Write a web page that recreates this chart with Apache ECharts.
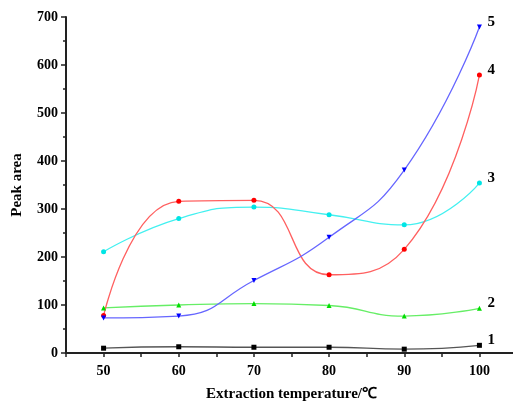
<!DOCTYPE html>
<html>
<head>
<meta charset="utf-8">
<script src="https://cdn.jsdelivr.net/npm/echarts@6/dist/echarts.min.js"></script>
<style>html,body{margin:0;padding:0;background:#fff}#c{width:513px;height:402px}</style>
</head>
<body>
<div id="c"></div>
<script>
const temps = [50, 60, 70, 80, 90, 100];
const s1 = [10, 13, 12, 12, 8, 16];
const s2 = [94, 100, 103, 99, 77, 93];
const s3 = [211, 280, 304, 288, 267, 354];
const s4 = [78, 316, 318, 163, 216, 579];
const s5 = [73, 77, 151, 241, 381, 679];
const names = ['1', '2', '3', '4', '5'];
const markers = ['rect', 'triangle', 'circle', 'circle', 'path://M0,0 L10,0 L5,10 Z'];
const markerColors = ['#000000', '#00dd00', '#00e5e5', '#ff0000', '#0000ff'];
const lineColors = ['#555555', '#66ee66', '#44f0f0', '#ff6060', '#6666ff'];
const allData = [s1, s2, s3, s4, s5];

const font = '"Liberation Serif", "Times New Roman", serif';
const series = allData.map((vals, i) => ({
  type: 'line',
  name: names[i],
  data: temps.map((t, j) => [t, vals[j]]),
  smooth: 0.5,
  symbol: markers[i],
  symbolSize: 5,
  itemStyle: { color: markerColors[i] },
  lineStyle: { color: lineColors[i], width: 1.3 },
  endLabel: {
    show: true,
    formatter: names[i],
    color: '#000',
    fontFamily: font,
    fontWeight: 'bold',
    fontSize: 15,
    distance: 8,
    offset: [0, -5]
  },
  z: 3
}));

const chart = echarts.init(document.getElementById('c'));
chart.setOption({
  animation: false,
  backgroundColor: '#fff',
  grid: { left: 66, right: -4, top: 17, bottom: 49, containLabel: false, outerBoundsMode: 'none' },
  xAxis: {
    type: 'value',
    min: 45, max: 105, interval: 5,
    name: 'Extraction temperature/℃',
    nameLocation: 'middle',
    nameGap: 34,
    nameTextStyle: { fontFamily: font, fontWeight: 'bold', fontSize: 15, color: '#000' },
    axisLine: { lineStyle: { color: '#222', width: 2 } },
    axisTick: { show: true, length: 4, lineStyle: { color: '#222', width: 1.5 } },
    axisLabel: {
      formatter: v => (v % 10 === 0 ? String(v) : ''),
      fontFamily: font, fontWeight: 'bold', fontSize: 14, color: '#000', margin: 11
    },
    splitLine: { show: false }
  },
  yAxis: {
    type: 'value',
    min: 0, max: 700, interval: 100,
    name: 'Peak area',
    nameLocation: 'middle',
    nameGap: 41,
    nameTextStyle: { fontFamily: font, fontWeight: 'bold', fontSize: 15, color: '#000' },
    axisLine: { show: true, lineStyle: { color: '#222', width: 2 } },
    axisTick: { show: true, length: 5, lineStyle: { color: '#222', width: 1.5 } },
    minorTick: { show: true, splitNumber: 2, length: 3, lineStyle: { color: '#222', width: 1.5 } },
    axisLabel: { fontFamily: font, fontWeight: 'bold', fontSize: 14, color: '#000', margin: 8 },
    splitLine: { show: false }
  },
  series: series
});
</script>
</body>
</html>
